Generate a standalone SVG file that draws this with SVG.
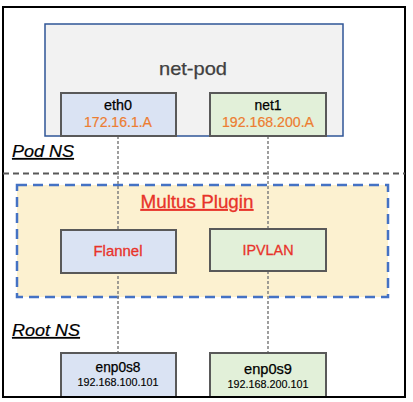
<svg xmlns="http://www.w3.org/2000/svg" width="413" height="402" viewBox="0 0 413 402">
<style>
text{font-family:"Liberation Sans",Arial,sans-serif;text-anchor:middle}
.box{stroke:#595959;stroke-width:2}
.blue{fill:#dae3f3}
.green{fill:#e2f0d9}
.name{font-size:14px;fill:#000;stroke:#000;stroke-width:0.25}
.ip{font-size:14px;fill:#ed7d31;stroke:#ed7d31;stroke-width:0.2}
.plug{font-size:14.5px;fill:#e8332a;stroke:#e8332a;stroke-width:0.3}
.ns{font-size:16.5px;font-style:italic;text-anchor:start;text-decoration:underline;stroke:#000;stroke-width:0.2}
.small{font-size:11.5px;fill:#000;stroke:#000;stroke-width:0.15}
.link{stroke:#7f7f7f;stroke-width:1.5;stroke-dasharray:3,2;fill:none}
</style>
<rect x="0" y="0" width="413" height="402" fill="#fff"/>
<g id="frame">
<rect x="3" y="7" width="402" height="390" fill="#fff" stroke="#000" stroke-width="2"/>
</g>
<g id="divider">
<line x1="3" y1="173.5" x2="405" y2="173.5" stroke="#595959" stroke-width="2" stroke-dasharray="6,4"/>
</g>
<g id="multus">
<rect x="17" y="185" width="371" height="112" fill="#fcf1d0" stroke="#4472c4" stroke-width="2.5" stroke-dasharray="10,6"/>
<text x="197" y="208" font-size="18.5" fill="#e8332a" stroke="#e8332a" stroke-width="0.3" text-decoration="underline" textLength="113" lengthAdjust="spacingAndGlyphs">Multus Plugin</text>
</g>
<g id="net-pod">
<rect x="45" y="24" width="298" height="112" fill="#f2f2f2" stroke="#2f5597" stroke-width="1.5"/>
<text x="193" y="75" font-size="18.5" fill="#404040" stroke="#404040" stroke-width="0.25" textLength="68" lengthAdjust="spacingAndGlyphs">net-pod</text>
</g>
<g id="connectors">
<line class="link" x1="118" y1="136" x2="118" y2="353"/>
<line class="link" x1="268" y1="136" x2="268" y2="353"/>
</g>
<g id="eth0">
<rect class="box blue" x="61" y="93" width="115" height="43"/>
<text class="name" x="118" y="110" textLength="28" lengthAdjust="spacingAndGlyphs">eth0</text>
<text class="ip" x="118" y="127" textLength="68" lengthAdjust="spacingAndGlyphs">172.16.1.A</text>
</g>
<g id="net1">
<rect class="box green" x="210" y="93" width="116" height="43"/>
<text class="name" x="268" y="110" textLength="27" lengthAdjust="spacingAndGlyphs">net1</text>
<text class="ip" x="268" y="127" textLength="92" lengthAdjust="spacingAndGlyphs">192.168.200.A</text>
</g>
<g id="podns">
<text class="ns" x="12" y="157" textLength="62" lengthAdjust="spacingAndGlyphs">Pod NS</text>
</g>
<g id="flannel">
<rect class="box blue" x="61" y="230" width="115" height="43"/>
<text class="plug" x="118" y="255.5" textLength="49" lengthAdjust="spacingAndGlyphs">Flannel</text>
</g>
<g id="ipvlan">
<rect class="box green" x="210" y="229" width="116" height="42"/>
<text class="plug" x="268" y="254.5" textLength="51" lengthAdjust="spacingAndGlyphs">IPVLAN</text>
</g>
<g id="rootns">
<text class="ns" x="12" y="336" textLength="68" lengthAdjust="spacingAndGlyphs">Root NS</text>
</g>
<g id="enp0s8">
<rect class="box blue" x="61" y="353" width="115" height="44"/>
<text class="name" x="118" y="372" font-size="15" textLength="45" lengthAdjust="spacingAndGlyphs">enp0s8</text>
<text class="small" x="118" y="385.5" textLength="81" lengthAdjust="spacingAndGlyphs">192.168.100.101</text>
</g>
<g id="enp0s9">
<rect class="box green" x="210" y="353" width="116" height="44"/>
<text class="name" x="268" y="374" font-size="15.5" textLength="48" lengthAdjust="spacingAndGlyphs">enp0s9</text>
<text class="small" x="268" y="387.5" textLength="81" lengthAdjust="spacingAndGlyphs">192.168.200.101</text>
</g>
<line x1="3" y1="397" x2="405" y2="397" stroke="#000" stroke-width="2"/>
</svg>
